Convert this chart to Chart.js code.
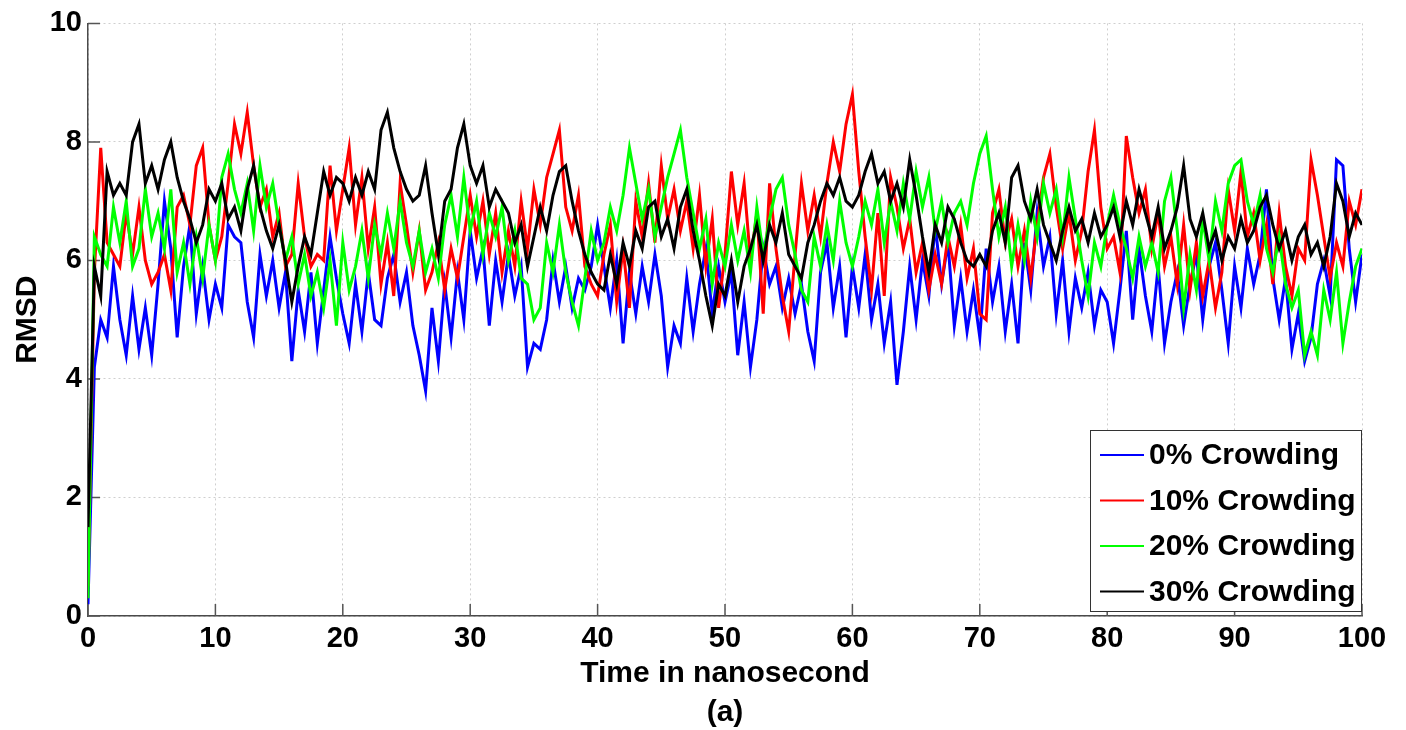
<!DOCTYPE html>
<html lang="en">
<head>
  <meta charset="UTF-8">
  <title>RMSD vs time</title>
  <script src="https://cdn.jsdelivr.net/npm/chart.js"></script>
  <style>
    * { margin: 0; padding: 0; box-sizing: border-box; }
    body { background: #fff; width: 1406px; height: 730px; overflow: hidden; }
    canvas { display: block; }
  </style>
</head>
<body>
  <canvas id="rmsdChart" width="1406" height="730"></canvas>

  <script>
    // sampling grid: one reading every 0.5 ns, 0..100 ns
    const timeNs = Array.from({ length: 201 }, (_, i) => i * 0.5);

    const seriesLabels = ['0% Crowding', '10% Crowding', '20% Crowding', '30% Crowding'];
    const seriesColors = ['#0000ff', '#ff0000', '#00ff00', '#000000'];

    const rmsd0 = [
      0.2, 4.2, 5.0, 4.7, 5.9, 5.0, 4.4, 5.4, 4.5, 5.2, 4.4,
      5.6, 7.0, 6.2, 4.7, 5.9, 6.6, 5.1, 5.9, 5.0, 5.6,
      5.2, 6.6, 6.4, 6.3, 5.3, 4.7, 6.1, 5.4, 6.0, 5.2,
      5.8, 4.3, 5.5, 4.8, 5.8, 4.6, 5.5, 6.4, 5.7, 5.1,
      4.6, 5.6, 4.8, 5.8, 5.0, 4.9, 5.7, 6.1, 5.3, 5.8,
      4.9, 4.4, 3.8, 5.2, 4.3, 5.6, 4.7, 5.8, 5.0, 6.5,
      5.7, 6.2, 4.9, 6.0, 5.3, 6.1, 5.4, 5.9, 4.2, 4.6,
      4.5, 5.0, 6.0, 5.3, 5.9, 5.2, 5.7, 5.5, 5.9, 6.6,
      5.9, 5.2, 6.0, 4.6, 5.8, 5.1, 5.9, 5.3, 6.1, 5.4,
      4.2, 4.9, 4.6, 5.7, 4.8, 5.6, 6.2, 5.1, 5.9, 5.3,
      5.8, 4.4, 5.3, 4.2, 5.0, 6.2, 5.6, 5.9, 5.2, 5.7,
      5.1, 5.6, 4.8, 4.3, 5.8, 6.3, 5.2, 5.9, 4.7, 5.9,
      5.2, 6.1, 5.0, 5.6, 4.6, 5.3, 3.9, 4.8, 5.9, 5.0,
      6.0, 5.4, 6.6, 5.6, 6.3, 4.9, 5.7, 4.8, 5.5, 4.7,
      6.2, 5.3, 5.9, 4.8, 5.6, 4.6, 6.3, 5.5, 6.8, 5.9,
      6.4, 5.1, 6.0, 4.8, 5.7, 5.2, 5.8, 4.9, 5.5, 5.3,
      4.6, 5.5, 6.5, 5.0, 6.2, 5.4, 4.8, 5.9, 4.6, 5.3,
      5.8, 4.9, 5.6, 6.1, 5.0, 5.9, 6.3, 5.5, 4.6, 5.9,
      5.2, 6.2, 5.6, 6.1, 7.2, 5.7, 5.0, 5.7, 4.5, 5.1,
      4.3, 4.7, 5.6, 6.0, 5.4, 7.7, 7.6, 6.2, 5.3, 6.1
    ];

    const rmsd10 = [
      0.5, 5.8, 7.9, 6.3, 6.1, 5.9, 6.8, 6.1, 6.9, 6.0, 5.6,
      5.8, 6.1, 5.5, 6.9, 7.1, 6.6, 7.6, 7.9, 6.6, 6.0,
      6.4, 7.3, 8.3, 7.8, 8.5, 7.6, 6.9, 7.2, 6.4, 6.8,
      5.9, 6.1, 7.3, 6.4, 5.9, 6.1, 6.0, 7.6, 6.5, 7.2,
      7.9, 6.6, 7.4, 6.2, 6.9, 5.6, 6.3, 5.4, 7.3, 6.6,
      5.8, 6.5, 5.5, 5.8, 6.3, 5.5, 6.2, 5.7, 6.4, 7.1,
      6.4, 7.0, 6.1, 6.8, 5.8, 6.5, 5.9, 7.0, 6.2, 7.2,
      6.6, 7.4, 7.8, 8.2, 6.9, 6.5, 7.1, 5.9, 5.6, 5.4,
      6.1, 6.6, 5.3, 6.2, 5.2, 7.0, 6.4, 7.3, 6.3, 7.6,
      6.7, 7.2, 6.5, 7.0, 6.2, 7.1, 5.9, 6.7, 5.2, 6.1,
      7.5, 6.6, 7.3, 6.0, 6.8, 5.1, 7.3, 6.2, 5.4, 4.8,
      6.1, 7.3, 6.5, 7.1, 6.4, 7.3, 8.0, 7.5, 8.3, 8.8,
      7.5, 6.4, 5.5, 6.8, 5.4, 7.4, 6.9, 6.2, 6.7, 5.8,
      6.3, 5.5, 6.1, 5.6, 6.4, 5.9, 6.6, 5.7, 6.2, 5.1,
      5.0, 6.8, 7.2, 6.3, 6.7, 5.9, 6.5, 5.7, 6.6, 7.4,
      7.8, 6.9, 6.2, 6.8, 6.0, 6.5, 7.5, 8.2, 6.9, 6.2,
      6.4, 5.8, 8.1, 7.4, 6.8, 7.2, 6.2, 6.8, 5.9, 6.4,
      5.6, 6.6, 5.5, 6.3, 5.4, 6.0, 5.2, 5.8, 7.2, 6.5,
      7.5, 6.4, 6.8, 6.0, 6.6, 5.6, 6.8, 5.9, 5.4, 6.2,
      6.0, 7.7, 7.1, 6.4, 5.7, 6.3, 5.9, 7.0, 6.6, 7.2
    ];

    const rmsd20 = [
      0.3, 6.4, 6.1, 5.9, 6.9, 6.3, 7.0, 5.9, 6.2, 7.2, 6.4,
      6.8, 6.2, 7.2, 5.8, 6.3, 5.6, 6.4, 5.7, 6.6, 6.0,
      7.4, 7.8, 7.2, 6.8, 7.3, 6.5, 7.6, 6.9, 7.3, 6.6,
      6.0, 6.4, 5.6, 6.1, 5.4, 5.8, 5.2, 6.0, 4.9, 6.3,
      5.5, 5.9, 6.5, 5.7, 6.6, 6.1, 6.8, 6.2, 7.0, 6.3,
      5.9, 6.5, 5.8, 6.2, 5.7, 6.6, 7.1, 6.4, 7.4, 6.5,
      7.0, 6.1, 6.8, 6.4, 6.9, 6.0, 6.5, 5.7, 5.6, 5.0,
      5.2, 6.3, 5.8, 6.6, 5.8, 5.3, 4.9, 5.7, 6.5, 6.0,
      6.3, 6.9, 6.5, 7.1, 7.9, 7.3, 6.7, 7.2, 6.4, 6.9,
      7.4, 7.8, 8.2, 7.4, 6.8, 6.2, 6.7, 5.6, 6.3, 5.9,
      6.6, 6.0, 6.5, 5.8, 6.9, 6.1, 6.7, 7.2, 7.4, 6.6,
      6.1, 5.5, 5.3, 6.4, 5.9, 6.6, 6.0, 7.0, 6.3, 5.9,
      6.4, 7.0, 6.6, 7.2, 6.3, 7.0, 6.5, 7.3, 6.7, 7.5,
      6.9, 7.4, 6.5, 7.0, 6.3, 6.8, 7.0, 6.6, 7.3, 7.8,
      8.1, 7.2, 6.4, 6.9, 5.9, 6.6, 6.0, 7.0, 6.4, 7.3,
      6.8, 7.2, 6.4, 7.4, 6.7, 6.0, 5.4, 6.3, 5.9, 6.6,
      7.1, 6.6, 6.2, 5.7, 6.4, 5.9, 6.3, 5.8, 7.0, 7.4,
      6.5, 5.2, 6.1, 5.5, 6.7, 6.0, 7.0, 6.5, 7.3, 7.6,
      7.7, 7.0, 6.6, 7.1, 6.2, 5.8, 6.4, 5.6, 5.2, 5.5,
      4.4, 4.8, 4.4, 5.5, 5.0, 5.8, 4.6, 5.3, 5.9, 6.2
    ];

    const rmsd30 = [
      1.5, 5.9, 5.4, 7.5, 7.1, 7.3, 7.1, 8.0, 8.3, 7.3, 7.6,
      7.2, 7.7, 8.0, 7.4, 7.0, 6.7, 6.3, 6.6, 7.2, 7.0,
      7.3, 6.7, 6.9, 6.5, 7.2, 7.6, 6.9, 6.5, 6.2, 6.6,
      6.0, 5.3, 5.9, 6.4, 6.1, 6.8, 7.5, 7.1, 7.4, 7.3,
      7.0, 7.4, 7.1, 7.5, 7.2, 8.2, 8.5, 7.9, 7.5, 7.2,
      7.0, 7.1, 7.6, 6.8, 6.1, 7.0, 7.2, 7.9, 8.3, 7.6,
      7.3, 7.6, 6.9, 7.2, 7.0, 6.8, 6.3, 6.6, 5.9, 6.4,
      6.9, 6.5, 7.1, 7.5, 7.6, 7.0, 6.5, 6.1, 5.8, 5.6,
      5.5, 6.1, 5.6, 6.3, 5.9, 6.5, 6.2, 6.9, 7.0, 6.4,
      6.7, 6.2, 6.9, 7.2, 6.5, 6.0, 5.4, 4.9, 5.6, 5.4,
      6.0, 5.3, 5.9, 6.2, 6.6, 6.0, 6.6, 6.3, 6.8, 6.1,
      5.9, 5.7, 6.3, 6.6, 7.0, 7.3, 7.1, 7.4, 7.0, 6.9,
      7.1, 7.5, 7.8, 7.3, 7.5, 7.0, 7.3, 6.9, 7.7, 7.1,
      6.4, 5.8, 6.6, 6.3, 6.9, 6.7, 6.3, 6.0, 5.9, 6.1,
      5.9, 6.5, 6.8, 6.3, 7.4, 7.6, 7.0, 6.7, 7.2, 6.6,
      6.3, 6.0, 6.5, 6.9, 6.5, 6.7, 6.3, 6.8, 6.4, 6.6,
      6.9, 6.4, 7.0, 6.6, 7.2, 6.8, 6.4, 6.9, 6.2, 6.5,
      6.9, 7.6, 6.7, 6.4, 6.8, 6.2, 6.5, 6.0, 6.4, 6.2,
      6.7, 6.3, 6.5, 6.9, 7.1, 6.6, 6.2, 6.5, 6.0, 6.4,
      6.6, 6.1, 6.3, 5.9, 6.4, 7.3, 7.0, 6.4, 6.8, 6.6
    ];

    const xTicks = [0, 10, 20, 30, 40, 50, 60, 70, 80, 90, 100];
    const yTicks = [0, 2, 4, 6, 8, 10];

    const FONT = '"Liberation Sans", Arial, sans-serif';

    // legend box sitting inside the plot, lower right (MATLAB style)
    const insideLegend = {
      id: 'insideLegend',
      afterDraw(chart) {
        const { ctx, chartArea } = chart;
        const w = 272, h = 182;
        const x0 = chartArea.right - w, y0 = chartArea.bottom - h - 4;
        ctx.save();
        ctx.fillStyle = '#fff';
        ctx.fillRect(x0, y0, w, h);
        ctx.strokeStyle = '#333';
        ctx.lineWidth = 1;
        ctx.strokeRect(x0 + 0.5, y0 + 0.5, w - 1, h - 1);
        ctx.font = 'bold 30px ' + FONT;
        ctx.textBaseline = 'middle';
        ctx.textAlign = 'left';
        chart.data.datasets.forEach((ds, i) => {
          const cy = y0 + 25 + i * 45.5;
          ctx.strokeStyle = ds.borderColor;
          ctx.lineWidth = 2;
          ctx.beginPath();
          ctx.moveTo(x0 + 10, cy);
          ctx.lineTo(x0 + 54, cy);
          ctx.stroke();
          ctx.fillStyle = '#000';
          ctx.fillText(ds.label, x0 + 59, cy + 1);
        });
        ctx.restore();
      }
    };

    // short tick marks pointing into the plot
    const innerTicks = {
      id: 'innerTicks',
      beforeDatasetsDraw(chart) {
        const { ctx, chartArea, scales } = chart;
        ctx.save();
        ctx.strokeStyle = '#555';
        ctx.lineWidth = 1.5;
        ctx.beginPath();
        xTicks.forEach(v => {
          const px = scales.x.getPixelForValue(v);
          ctx.moveTo(px, chartArea.bottom);
          ctx.lineTo(px, chartArea.bottom - 12);
        });
        yTicks.forEach(v => {
          const py = scales.y.getPixelForValue(v);
          ctx.moveTo(chartArea.left, py);
          ctx.lineTo(chartArea.left + 12, py);
        });
        ctx.stroke();
        ctx.restore();
      }
    };

    const allSeries = [rmsd0, rmsd10, rmsd20, rmsd30];

    new Chart(document.getElementById('rmsdChart'), {
      type: 'line',
      data: {
        datasets: allSeries.map((vals, i) => ({
          label: seriesLabels[i],
          data: vals.map((v, k) => ({ x: timeNs[k], y: v })),
          borderColor: seriesColors[i],
          backgroundColor: seriesColors[i],
          borderWidth: 3,
          pointRadius: 0,
          tension: 0,
          order: 3 - i
        }))
      },
      options: {
        responsive: false,
        animation: false,
        devicePixelRatio: 1,
        layout: { padding: { top: 20, right: 44, left: 0, bottom: 0 } },
        plugins: {
          legend: { display: false },
          tooltip: { enabled: false }
        },
        scales: {
          x: {
            type: 'linear',
            min: 0,
            max: 100,
            afterBuildTicks: s => { s.ticks = xTicks.map(v => ({ value: v })); },
            afterFit: s => { s.height = 114; },
            ticks: {
              color: '#000',
              padding: 6,
              autoSkip: false,
              maxRotation: 0,
              font: { family: FONT, size: 29, weight: 'bold' }
            },
            grid: { color: '#cfcfcf', lineWidth: 1, drawTicks: false },
            border: { display: true, color: '#4a4a4a', width: 1.5, dash: [2, 3] },
            title: {
              display: true,
              text: ['Time in nanosecond', '(a)'],
              color: '#000',
              font: { family: FONT, size: 30, weight: 'bold', lineHeight: 1.3 },
              padding: { top: 0, bottom: -2 }
            }
          },
          y: {
            min: 0,
            max: 10,
            afterBuildTicks: s => { s.ticks = yTicks.map(v => ({ value: v })); },
            afterFit: s => { s.width = 88; },
            ticks: {
              color: '#000',
              padding: 6,
              autoSkip: false,
              font: { family: FONT, size: 29, weight: 'bold' }
            },
            grid: { color: '#cfcfcf', lineWidth: 1, drawTicks: false },
            border: { display: true, color: '#4a4a4a', width: 1.5, dash: [2, 3] },
            title: {
              display: true,
              text: 'RMSD',
              color: '#000',
              font: { family: FONT, size: 30, weight: 'bold' },
              padding: { top: 10, bottom: 0 }
            }
          }
        }
      },
      plugins: [innerTicks, insideLegend]
    });
  </script>
</body>
</html>
